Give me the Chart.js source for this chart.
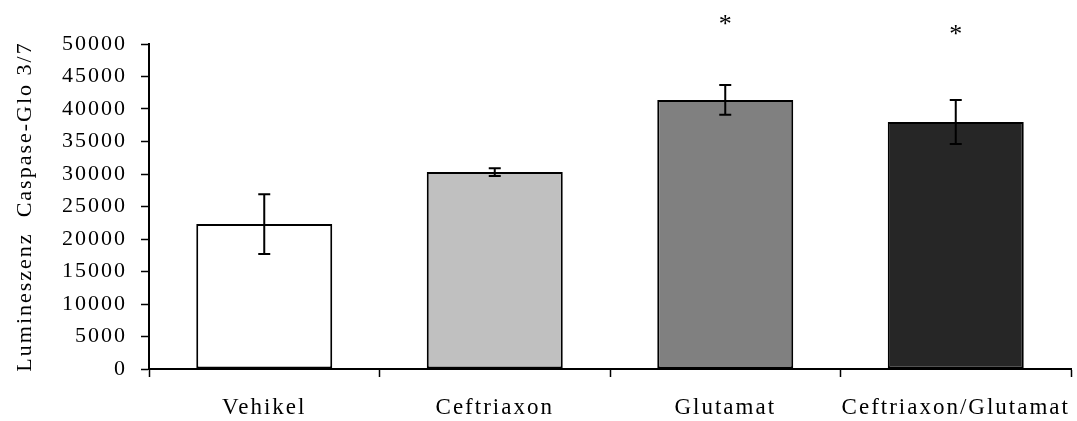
<!DOCTYPE html>
<html>
<head>
<meta charset="utf-8">
<script src="https://cdn.jsdelivr.net/npm/chart.js@4"></script>
<style>
  body { margin: 0; background: #fff; }
  canvas { display: block; }
</style>
</head>
<body>
<canvas id="chart" width="1077" height="421"></canvas>
<script>
// Values
const categories = ['Vehikel', 'Ceftriaxon', 'Glutamat', 'Ceftriaxon/Glutamat'];
const means = [22300, 30300, 41400, 38000];
const errors = [4600, 600, 2300, 3400];
const barColors = ['#ffffff', '#c0c0c0', '#808080', '#262626'];
const sigMarks = ['', '', '*', '*'];
const sigLevels = [0, 0, 53700, 52200];
const yTicks = [0, 5000, 10000, 15000, 20000, 25000, 30000, 35000, 40000, 45000, 50000];

const FONT = 'Liberation Serif';
const SPACING = '2px';

// Excel-style wide text, approximated with letter spacing
const spacingPlugin = {
    id: 'spacing',
    beforeLayout(chart) { chart.ctx.letterSpacing = SPACING; },
    beforeDraw(chart) { chart.ctx.letterSpacing = SPACING; }
};

const errorBarPlugin = {
    id: 'errorBars',
    afterDatasetsDraw(chart) {
        const ctx = chart.ctx;
        const yScale = chart.scales.y;
        const meta = chart.getDatasetMeta(0);
        ctx.save();
        ctx.strokeStyle = '#000';
        ctx.lineWidth = 2;
        meta.data.forEach((bar, i) => {
            const top = yScale.getPixelForValue(means[i] + errors[i]);
            const bottom = yScale.getPixelForValue(means[i] - errors[i]);
            const cap = 6;
            ctx.beginPath();
            ctx.moveTo(bar.x, top);
            ctx.lineTo(bar.x, bottom);
            ctx.moveTo(bar.x - cap, top);
            ctx.lineTo(bar.x + cap, top);
            ctx.moveTo(bar.x - cap, bottom);
            ctx.lineTo(bar.x + cap, bottom);
            ctx.stroke();

            if (sigMarks[i]) {
                ctx.letterSpacing = '0px';
                ctx.fillStyle = '#000';
                ctx.font = `26px "${FONT}"`;
                ctx.textAlign = 'center';
                ctx.textBaseline = 'middle';
                ctx.fillText(sigMarks[i], bar.x, yScale.getPixelForValue(sigLevels[i]) + 5);
            }
        });
        ctx.restore();
    }
};

new Chart(document.getElementById('chart'), {
    type: 'bar',
    data: {
        labels: categories,
        datasets: [{
            data: means,
            backgroundColor: barColors,
            borderColor: '#000',
            borderWidth: 2,
            borderSkipped: false,
            barPercentage: 0.59,
            categoryPercentage: 1
        }]
    },
    options: {
        responsive: false,
        devicePixelRatio: 1,
        animation: false,
        layout: { padding: { top: 44, right: 6, bottom: 0, left: 0 } },
        plugins: {
            legend: { display: false },
            tooltip: { enabled: false }
        },
        scales: {
            x: {
                afterFit(scale) {
                    scale.height = 52;
                    scale.paddingLeft = 0;
                    scale.paddingRight = 0;
                },
                grid: {
                    offset: true,
                    drawOnChartArea: false,
                    drawTicks: true,
                    tickLength: 8,
                    tickWidth: 1.5,
                    tickColor: '#000'
                },
                border: { color: '#000', width: 2 },
                ticks: {
                    color: '#000',
                    padding: 17,
                    autoSkip: false,
                    maxRotation: 0,
                    minRotation: 0,
                    font: { family: FONT, size: 23 }
                }
            },
            y: {
                min: 0,
                max: 50000,
                afterBuildTicks(scale) {
                    scale.ticks = yTicks.map(v => ({ value: v }));
                },
                afterFit(scale) { scale.width = 149; },
                grid: {
                    drawOnChartArea: false,
                    drawTicks: true,
                    tickLength: 8,
                    tickWidth: 1.5,
                    tickColor: '#000'
                },
                border: { color: '#000', width: 2 },
                ticks: {
                    color: '#000',
                    padding: 14,
                    font: { family: FONT, size: 22 },
                    callback: v => String(v)
                },
                title: {
                    display: true,
                    text: 'Lumineszenz  Caspase-Glo 3/7',
                    color: '#000',
                    padding: { top: 12, bottom: 0 },
                    font: { family: FONT, size: 22 }
                }
            }
        }
    },
    plugins: [spacingPlugin, errorBarPlugin]
});
</script>
</body>
</html>
